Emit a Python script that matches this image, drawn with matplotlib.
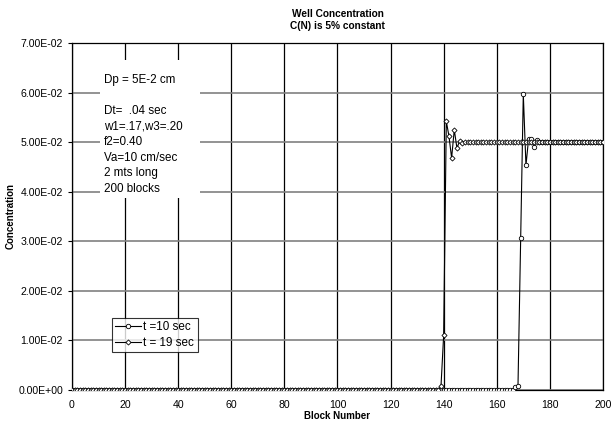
import matplotlib
matplotlib.use('Agg')
import matplotlib.pyplot as plt
from matplotlib.patches import Rectangle
from matplotlib.ticker import FuncFormatter, MultipleLocator
import numpy as np

plt.rcParams['font.family'] = ['Liberation Sans', 'DejaVu Sans']

# block index along the well
blocks = np.arange(0, 201)

# concentration profile at t = 10 sec (front near block 170)
conc_t10 = [0.0] * 167 + [0.0006, 0.0008, 0.0306, 0.0597, 0.0453,
                          0.0507, 0.0507, 0.0490, 0.0505] + [0.05] * 25

# concentration profile at t = 19 sec (front near block 140)
conc_t19 = [0.0] * 139 + [0.0008, 0.011, 0.0542, 0.0512, 0.0468,
                          0.0525, 0.0488, 0.0502, 0.0499] + [0.05] * 53

info_lines = ['Dp = 5E-2 cm', '', 'Dt=  .04 sec', 'w1=.17,w3=.20', 'f2=0.40',
              'Va=10 cm/sec', '2 mts long', '200 blocks']

fig = plt.figure(figsize=(6.12, 4.26), dpi=100)
ax = fig.add_axes([0.1176, 0.0845, 0.8676, 0.8146])

ax.plot(blocks, conc_t10, color='black', lw=0.8, marker='o', ms=3.2,
        mfc='white', mec='black', mew=0.6, label='t =10 sec', zorder=3)
ax.plot(blocks, conc_t19, color='black', lw=0.8, marker='D', ms=2.6,
        mfc='white', mec='black', mew=0.6, label='t = 19 sec', zorder=3)

ax.set_xlim(0, 200)
ax.set_ylim(0, 0.07)
ax.xaxis.set_major_locator(MultipleLocator(20))
ax.yaxis.set_major_locator(MultipleLocator(0.01))
ax.yaxis.set_major_formatter(FuncFormatter(lambda v, p: f'{v:.2E}'))
ax.tick_params(labelsize=7.6, length=3, width=0.8, direction='out')
ax.tick_params(axis='x', length=0, pad=7)

# grid: vertical black, horizontal grey
ax.grid(axis='x', color='black', lw=0.9, zorder=0)
ax.grid(axis='y', color='#808080', lw=1.2, zorder=0)
ax.set_axisbelow(True)
for s in ax.spines.values():
    s.set_color('black')
    s.set_linewidth(0.9)

ax.set_xlabel('Block Number', fontsize=7, fontweight='bold', labelpad=1)
ax.set_ylabel('Concentration', fontsize=7, fontweight='bold', labelpad=2)
fig.text(0.5515, 0.979, 'Well Concentration\nC(N) is 5% constant', ha='center',
         va='top', fontsize=7.3, fontweight='bold', linespacing=1.3)

# parameter notes on a white patch over the grid
ax.add_patch(Rectangle((0.0527, 0.553), 0.188, 0.398, transform=ax.transAxes,
                       facecolor='white', edgecolor='none', zorder=2))
ax.text(0.060, 0.912, '\n'.join(info_lines), transform=ax.transAxes,
        fontsize=8.4, va='top', ha='left', linespacing=1.4, zorder=4)

leg = ax.legend(loc='upper left', bbox_to_anchor=(0.0753, 0.2075), fontsize=8.4,
                frameon=True, fancybox=False, edgecolor='black',
                handlelength=2.2, handletextpad=0.2, borderpad=0.3,
                labelspacing=0.3, borderaxespad=0)
leg.get_frame().set_linewidth(0.8)

fig.savefig('out.png', dpi=100)
